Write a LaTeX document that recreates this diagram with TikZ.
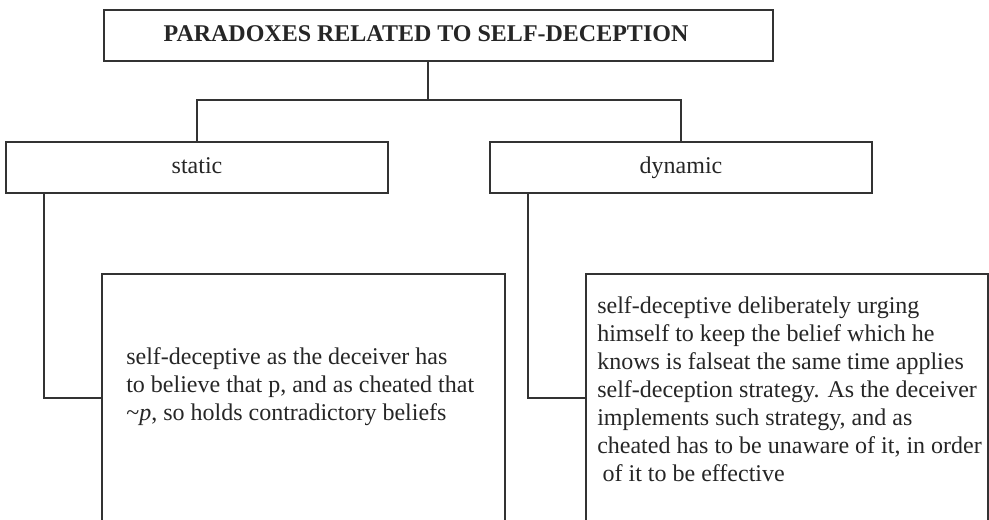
\documentclass[tikz,border=0pt]{standalone}
\usepackage{fontspec}
\setmainfont{Liberation Serif}
\tikzset{
  box/.style={draw=black!80, line width=0.9pt, rectangle, inner sep=0pt, fill=white},
  wire/.style={draw=black!80, line width=0.9pt},
  lbl/.style={text=black!85, font=\fontsize{18pt}{21pt}\selectfont, text height=12.5pt, text depth=4pt},
  txt/.style={inner sep=0pt, align=left, anchor=north west, text=black!85, font=\fontsize{18pt}{21pt}\selectfont},
}
\begin{document}
\begin{tikzpicture}[x=0.75pt,y=-0.75pt]
\useasboundingbox (0,0) rectangle (989,520);
\clip (0,0) rectangle (989,520);
\fill[white] (0,0) rectangle (989,520);
% boxes
\node[box, minimum width=501.75pt, minimum height=38.25pt] (top) at (438.5,35.5) {};
\node[lbl, inner sep=0pt, font=\fontsize{18pt}{21pt}\selectfont\bfseries] (title) at (426,35.5) {PARADOXES RELATED TO SELF-DECEPTION};
\node[box, lbl, minimum width=286.5pt, minimum height=38.25pt] (static) at (197,167.5) {static};
\node[box, lbl, minimum width=286.5pt, minimum height=38.25pt] (dynamic) at (681,167.5) {dynamic};
\node[box, minimum width=302.25pt, minimum height=214.5pt] (left) at (303.5,417) {};
\node[box, minimum width=301.5pt, minimum height=214.5pt] (right) at (787,417) {};
% texts
\node[txt] (lefttext) at (126,347) {self-deceptive as the deceiver has\\to believe that p, and as cheated that\\\textasciitilde\textit{p}, so holds contradictory beliefs};
\node[txt] (righttext) at (597,296) {self-deceptive deliberately urging\\himself to keep the belief which he\\knows is falseat the same time applies\\self-deception strategy. As the deceiver\\implements such strategy, and as\\cheated has to be unaware of it, in order\\\hspace*{4pt}of it to be effective};
% connectors
\coordinate (j) at (428,100);
\coordinate (ls) at (44,398);
\coordinate (rs) at (528,398);
\draw[wire] (top.south -| j) -- (j);
\draw[wire] (static.north) -- (static.north |- j) -- (dynamic.north |- j) -- (dynamic.north);
\draw[wire] (static.south -| ls) -- (ls) -- (ls -| left.west);
\draw[wire] (dynamic.south -| rs) -- (rs) -- (rs -| right.west);
\end{tikzpicture}
\end{document}
